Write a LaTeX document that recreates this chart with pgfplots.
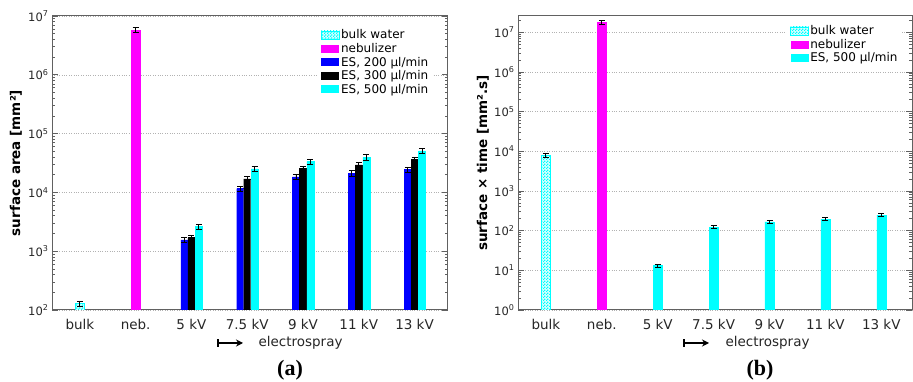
\documentclass[border=0pt]{standalone}
\usepackage{pgfplots}
\pgfplotsset{compat=1.18}
\usepackage{fontspec}
\setmainfont{DejaVu Sans}
\newfontfamily\serifb{Liberation Serif}
\usetikzlibrary{patterns,arrows.meta}
\definecolor{frame}{gray}{0.38}
\definecolor{cy}{rgb}{0,1,1}
\definecolor{mg}{rgb}{1,0,1}
\definecolor{bl}{rgb}{0,0,1}
\pgfdeclarepatternformonly{mychecker}{\pgfpointorigin}{\pgfpoint{3pt}{3pt}}{\pgfpoint{3pt}{3pt}}{%
  \pgfpathrectangle{\pgfpointorigin}{\pgfpoint{1.5pt}{1.5pt}}%
  \pgfpathrectangle{\pgfpoint{1.5pt}{1.5pt}}{\pgfpoint{1.5pt}{1.5pt}}%
  \pgfusepath{fill}}
\tikzset{
  bulkw/.style={pattern=mychecker, pattern color=cy, preaction={fill=cy!15}, draw=cy, /pgf/bar width=9pt, /pgf/bar shift=0pt},
  nebu/.style={fill=mg, draw=mg, /pgf/bar width=9pt, /pgf/bar shift=0pt},
}
\begin{document}
\begin{tikzpicture}
\useasboundingbox (0,0) rectangle (913pt,382pt);
% ---------------- (a)
\begin{axis}[at={(52pt,72pt)}, anchor=south west, width=396pt,
    scale only axis, height=294pt, ymode=log, ybar,
    xmin=-0.5, xtick={0,...,6},
    xticklabels={bulk,neb.,5 kV,7.5 kV,9 kV,11 kV,13 kV},
    xtick style={draw=none},
    axis line style={frame, line width=1pt},
    ytick style={frame, line width=0.7pt},
    major tick length=6pt, minor tick length=3pt,
    ymajorgrids, grid style={dotted, black!30, line width=0.5pt},
    xticklabel style={font=\fontsize{13.5}{16}\selectfont, text=black!85},
    yticklabel style={font=\fontsize{11.5}{14}\selectfont, text=black!85},
    error bars/y dir=both, error bars/y explicit relative,
    error bars/error bar style={black, line width=0.9pt},
    error bars/error mark options={rotate=90, black, mark size=3pt, line width=0.9pt},
    legend style={draw=none, fill=white, font=\fontsize{12}{14}\selectfont, row sep=0pt, nodes={inner sep=1.5pt}},
    legend cell align=left,
  xmax=6.6, ymin=1e2, ymax=1e7,
  ytick={1e2,1e3,1e4,1e5,1e6,1e7},
  yticklabels={10\textsuperscript{2},10\textsuperscript{3},10\textsuperscript{4},10\textsuperscript{5},10\textsuperscript{6},10\textsuperscript{7}},
  minor ytick={200,300,400,500,600,700,800,900,2000,3000,4000,5000,6000,7000,8000,9000,20000,30000,40000,50000,60000,70000,80000,90000,200000,300000,400000,500000,600000,700000,800000,900000,2000000,3000000,4000000,5000000,6000000,7000000,8000000,9000000},
  ylabel={surface area [mm²]},
  ylabel style={at={(axis description cs:-0.091,0.5)}, rotate=0, anchor=center, font=\fontsize{13.5}{16}\selectfont\bfseries},
  legend image code/.code={\path[#1,draw=none] (0pt,-4pt) rectangle (18pt,4pt);},
  legend style={at={(0.962,0.966)}, anchor=north east},
]
\addplot[bulkw] coordinates {(0,128) +- (0,0.1)};
\addlegendentry{bulk water}
\addplot[nebu] coordinates {(1,5.8e6) +- (0,0.1)};
\addlegendentry{nebulizer}
\addplot[fill=bl, draw=bl, /pgf/bar width=7pt, /pgf/bar shift=-7pt] coordinates {
 (2,1560) +- (0,0.1) (3,11600) +- (0,0.1) (4,18300) +- (0,0.1) (5,21100) +- (0,0.1) (6,24600) +- (0,0.1)};
\addlegendentry{ES, 200 µl/min}
\addplot[fill=black, draw=black, /pgf/bar width=7pt, /pgf/bar shift=0pt] coordinates {
 (2,1700) +- (0,0.1) (3,16900) +- (0,0.1) (4,25400) +- (0,0.1) (5,29300) +- (0,0.1) (6,36000) +- (0,0.1)};
\addlegendentry{ES, 300 µl/min}
\addplot[fill=cy, draw=cy, /pgf/bar width=7pt, /pgf/bar shift=7.5pt] coordinates {
 (2,2630) +- (0,0.1) (3,25000) +- (0,0.1) (4,33300) +- (0,0.1) (5,39500) +- (0,0.1) (6,50700) +- (0,0.1)};
\addlegendentry{ES, 500 µl/min}
\end{axis}
% ---------------- (b)
\begin{axis}[at={(518pt,72pt)}, anchor=south west, width=394pt,
    scale only axis, height=294pt, ymode=log, ybar,
    xmin=-0.5, xtick={0,...,6},
    xticklabels={bulk,neb.,5 kV,7.5 kV,9 kV,11 kV,13 kV},
    xtick style={draw=none},
    axis line style={frame, line width=1pt},
    ytick style={frame, line width=0.7pt},
    major tick length=6pt, minor tick length=3pt,
    ymajorgrids, grid style={dotted, black!30, line width=0.5pt},
    xticklabel style={font=\fontsize{13.5}{16}\selectfont, text=black!85},
    yticklabel style={font=\fontsize{11.5}{14}\selectfont, text=black!85},
    error bars/y dir=both, error bars/y explicit relative,
    error bars/error bar style={black, line width=0.9pt},
    error bars/error mark options={rotate=90, black, mark size=3pt, line width=0.9pt},
    legend style={draw=none, fill=white, font=\fontsize{12}{14}\selectfont, row sep=0pt, nodes={inner sep=1.5pt}},
    legend cell align=left,
  xmax=6.55, ymin=1, ymax=2.57e7,
  ytick={1,10,100,1000,10000,100000,1000000,10000000},
  yticklabels={10\textsuperscript{0},10\textsuperscript{1},10\textsuperscript{2},10\textsuperscript{3},10\textsuperscript{4},10\textsuperscript{5},10\textsuperscript{6},10\textsuperscript{7}},
  minor ytick={2,3,4,5,6,7,8,9,20,30,40,50,60,70,80,90,200,300,400,500,600,700,800,900,2000,3000,4000,5000,6000,7000,8000,9000,20000,30000,40000,50000,60000,70000,80000,90000,200000,300000,400000,500000,600000,700000,800000,900000,2000000,3000000,4000000,5000000,6000000,7000000,8000000,9000000,20000000},
  ylabel={surface × time [mm².s]},
  ylabel style={at={(axis description cs:-0.089,0.5)}, rotate=0, anchor=center, font=\fontsize{13.5}{16}\selectfont\bfseries},
  legend image code/.code={\path[#1,draw=none] (0pt,-4pt) rectangle (18pt,4pt);},
  legend style={at={(0.975,0.98)}, anchor=north east},
]
\addplot[bulkw] coordinates {(0,7900) +- (0,0.1)};
\addlegendentry{bulk water}
\addplot[nebu] coordinates {(1,1.76e7) +- (0,0.1)};
\addlegendentry{nebulizer}
\addplot[fill=cy, draw=cy, /pgf/bar width=9pt, /pgf/bar shift=0pt] coordinates {
 (2,13.1) +- (0,0.1) (3,123) +- (0,0.1) (4,167) +- (0,0.1) (5,196) +- (0,0.1) (6,247) +- (0,0.1)};
\addlegendentry{ES, 500 µl/min}
\end{axis}
% annotations
\draw[{Bar[width=8pt]}-{Stealth[length=7pt,width=7pt]}, line width=1.8pt] (217pt,39pt) -- (243pt,39pt);
\node[anchor=west, font=\fontsize{13.5}{16}\selectfont, text=black!85] at (255pt,39pt) {electrospray};
\node[font=\fontsize{22}{26}\selectfont\serifb\bfseries] at (290pt,12pt) {(a)};
\draw[{Bar[width=8pt]}-{Stealth[length=7pt,width=7pt]}, line width=1.8pt] (683pt,39pt) -- (709pt,39pt);
\node[anchor=west, font=\fontsize{13.5}{16}\selectfont, text=black!85] at (722pt,39pt) {electrospray};
\node[font=\fontsize{22}{26}\selectfont\serifb\bfseries] at (760pt,12pt) {(b)};
\end{tikzpicture}
\end{document}
